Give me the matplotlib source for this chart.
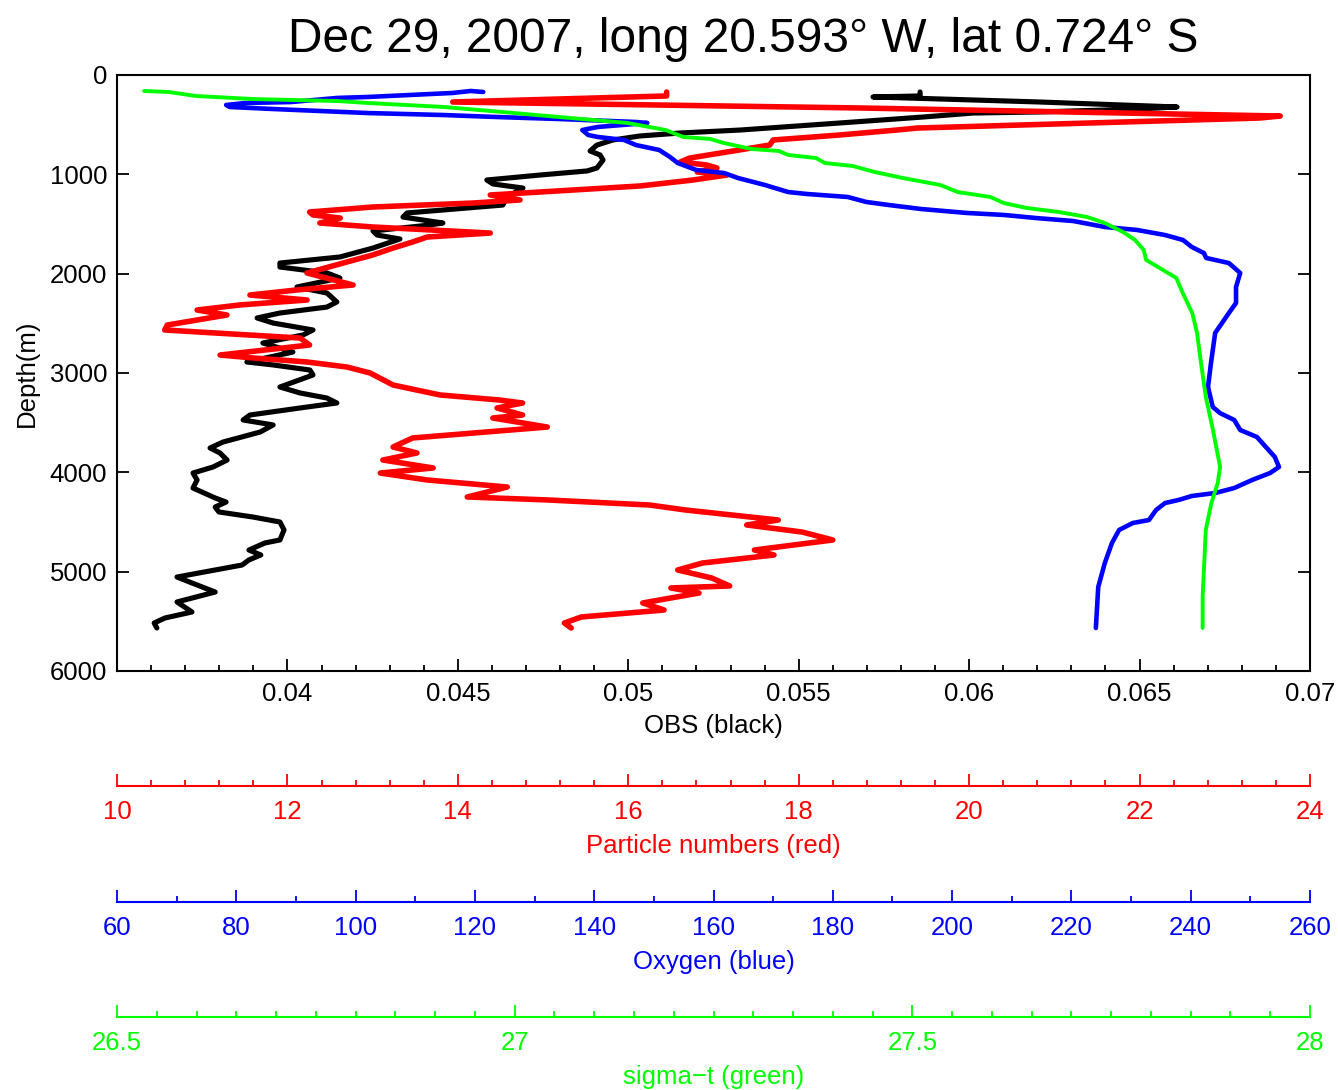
import numpy as np
import matplotlib
matplotlib.use("Agg")
from matplotlib import pyplot as plt
from matplotlib.ticker import MultipleLocator, FixedLocator

plt.rcParams['font.family'] = ['Liberation Sans', 'DejaVu Sans']

# OBS profile (black)
obs_val = [0.05856, 0.05856, 0.05718, 0.06208, 0.06610, 0.06501, 0.06208, 0.06011, 0.05865, 0.05621,
           0.05328, 0.05152, 0.05034, 0.04955, 0.04908, 0.04888, 0.04917, 0.04926, 0.04908, 0.04879,
           0.04741, 0.04585, 0.04603, 0.04691, 0.04644, 0.04632, 0.04351, 0.04339, 0.04456, 0.04418,
           0.04251, 0.04263, 0.04330, 0.04251, 0.04154, 0.03978, 0.03978, 0.04116, 0.04154, 0.04028,
           0.04116, 0.04145, 0.04116, 0.03978, 0.03911, 0.03958, 0.04075, 0.04046, 0.03928, 0.04016,
           0.03881, 0.03958, 0.04066, 0.04075, 0.03978, 0.04037, 0.04116, 0.04145, 0.04037, 0.03890,
           0.03870, 0.03958, 0.03920, 0.03811, 0.03773, 0.03802, 0.03823, 0.03782, 0.03723, 0.03735,
           0.03723, 0.03788, 0.03820, 0.03788, 0.03799, 0.03899, 0.03978, 0.03990, 0.03978, 0.03934,
           0.03887, 0.03922, 0.03887, 0.03867, 0.03788, 0.03676, 0.03720, 0.03788, 0.03732, 0.03676,
           0.03720, 0.03641, 0.03609, 0.03617]
obs_depth = [171, 211, 221, 272, 322, 342, 372, 383, 423, 483,
             554, 584, 614, 654, 705, 765, 805, 856, 936, 966,
             1007, 1057, 1097, 1138, 1228, 1309, 1389, 1430, 1490, 1510,
             1570, 1611, 1651, 1742, 1832, 1893, 1933, 1993, 2044, 2134,
             2195, 2285, 2336, 2396, 2446, 2497, 2567, 2617, 2698, 2789,
             2889, 2919, 2970, 3020, 3141, 3201, 3252, 3302, 3352, 3423,
             3473, 3523, 3594, 3695, 3755, 3805, 3876, 3946, 4007, 4077,
             4158, 4258, 4299, 4349, 4399, 4450, 4500, 4580, 4681, 4711,
             4782, 4832, 4882, 4933, 4983, 5054, 5114, 5205, 5255, 5305,
             5406, 5466, 5517, 5567]

# particle numbers (red)
part_val = [16.45, 16.45, 13.94, 18.72, 23.65, 23.41, 19.39, 19.15, 18.48, 17.70,
            17.66, 16.72, 16.61, 16.92, 17.04, 16.81, 17.16, 16.76, 16.14, 15.35,
            14.38, 14.73, 14.18, 13.00, 12.26, 12.30, 12.62, 12.38, 13.00, 14.38,
            13.64, 13.47, 13.24, 13.00, 12.70, 12.23, 12.77, 12.11, 11.56, 12.23,
            11.44, 10.94, 11.29, 10.59, 10.56, 12.15, 12.26, 11.21, 11.60, 12.23,
            12.70, 12.97, 13.24, 13.79, 14.49, 14.76, 14.46, 14.76, 14.41, 15.05,
            13.47, 13.24, 13.52, 13.12, 13.71, 13.09, 13.64, 14.58, 14.11, 15.05,
            16.25, 16.67, 17.76, 17.39, 18.04, 18.40, 17.48, 17.71, 16.87, 16.58,
            16.98, 17.19, 16.50, 16.83, 16.17, 16.42, 15.45, 15.25, 15.33]
part_depth = [171, 211, 272, 332, 413, 433, 534, 554, 604, 654,
              705, 836, 876, 906, 936, 977, 1007, 1057, 1117, 1158,
              1208, 1258, 1289, 1329, 1379, 1409, 1440, 1490, 1530, 1591,
              1631, 1681, 1742, 1812, 1882, 1993, 2114, 2164, 2215, 2265,
              2315, 2366, 2416, 2517, 2567, 2648, 2718, 2819, 2849, 2889,
              2940, 3000, 3121, 3221, 3272, 3302, 3352, 3423, 3453, 3544,
              3654, 3745, 3805, 3876, 3956, 4007, 4077, 4148, 4248, 4278,
              4329, 4379, 4480, 4530, 4601, 4681, 4782, 4832, 4913, 4983,
              5064, 5144, 5164, 5215, 5315, 5386, 5456, 5517, 5567]

# oxygen (blue)
oxy_val = [121.4, 119.3, 116.2, 102.1, 96.9, 89.2, 81.5, 78.3, 78.9, 86.0,
           102.1, 114.8, 121.4, 125.2, 134.1, 147.0, 148.9, 140.6, 138.0, 139.0,
           140.6, 145.0, 147.0, 150.9, 152.7, 154.0, 157.1, 161.8, 164.1, 168.6,
           172.5, 175.7, 182.5, 185.6, 189.4, 194.8, 202.5, 208.7, 214.1, 220.3,
           225.6, 231.0, 235.7, 238.7, 240.2, 242.2, 242.6, 244.1, 246.4, 248.3,
           247.6, 247.6, 246.4, 244.1, 243.4, 242.9, 243.7, 244.9, 247.3, 248.3,
           251.1, 252.6, 254.1, 254.8, 253.3, 250.3, 247.3, 244.1, 240.2, 238.0,
           235.7, 234.2, 233.0, 230.3, 228.0, 226.8, 225.6, 224.5, 224.1]
oxy_depth = [171, 161, 181, 221, 231, 272, 282, 302, 322, 342,
             383, 403, 418, 426, 443, 473, 483, 523, 554, 604,
             624, 654, 705, 755, 825, 886, 956, 987, 1037, 1107,
             1178, 1198, 1228, 1278, 1309, 1349, 1389, 1409, 1440, 1470,
             1530, 1560, 1611, 1661, 1732, 1792, 1842, 1862, 1893, 1993,
             2134, 2295, 2396, 2597, 2899, 3141, 3342, 3403, 3473, 3574,
             3644, 3745, 3845, 3946, 4007, 4077, 4158, 4208, 4238, 4278,
             4309, 4379, 4480, 4510, 4580, 4711, 4913, 5154, 5567]

# sigma-t (green)
sig_val = [26.534, 26.565, 26.599, 26.671, 26.777, 26.816, 26.911, 26.984, 27.056, 27.142,
           27.190, 27.212, 27.246, 27.263, 27.298, 27.332, 27.344, 27.379, 27.390, 27.425,
           27.453, 27.488, 27.535, 27.557, 27.598, 27.615, 27.644, 27.684, 27.720, 27.742,
           27.765, 27.780, 27.791, 27.794, 27.811, 27.832, 27.840, 27.852, 27.858, 27.863,
           27.869, 27.878, 27.887, 27.884, 27.876, 27.869, 27.867, 27.865, 27.865]
sig_depth = [161, 171, 211, 242, 262, 282, 322, 372, 423, 483,
             554, 624, 644, 685, 745, 765, 805, 836, 886, 916,
             977, 1037, 1107, 1178, 1228, 1289, 1339, 1379, 1430, 1490,
             1581, 1661, 1762, 1862, 1943, 2044, 2195, 2396, 2597, 2899,
             3241, 3574, 3946, 4107, 4309, 4580, 4913, 5255, 5567]

obs_ticks = [0.04, 0.045, 0.05, 0.055, 0.06, 0.065, 0.07]
obs_labels = ['0.04', '0.045', '0.05', '0.055', '0.06', '0.065', '0.07']
depth_ticks = [0, 1000, 2000, 3000, 4000, 5000, 6000]

FS = 18.5
W_PX, H_PX = 1338, 1090
L = 117 / W_PX
W = (1310 - 117) / W_PX

fig = plt.figure(figsize=(W_PX / 100, H_PX / 100), dpi=100)

ax = fig.add_axes([L, (H_PX - 671) / H_PX, W, 596 / H_PX])
ax.set_xlim(0.035, 0.07)
ax.set_ylim(6000, 0)
ax.xaxis.set_major_locator(FixedLocator(obs_ticks))
ax.set_xticklabels(obs_labels)
ax.xaxis.set_minor_locator(MultipleLocator(0.001))
ax.set_yticks(depth_ticks)
ax.set_yticklabels([str(d) for d in depth_ticks])
ax.tick_params(which='both', direction='in', top=True, right=True, width=1.3, labelsize=FS)
ax.tick_params(which='major', length=8.5)
ax.tick_params(which='minor', length=4.5)
ax.tick_params(axis='x', pad=8)
ax.tick_params(axis='y', pad=7)
for s in ax.spines.values():
    s.set_linewidth(1.5)
ax.set_xlabel('OBS (black)', fontsize=FS, labelpad=6)
ax.set_ylabel('Depth(m)', fontsize=FS, labelpad=8)

ax.plot(obs_val, obs_depth, color='black', lw=3.7, solid_capstyle='round', solid_joinstyle='round')

# extra x scales that share the depth axis
for vals, dep, lim, col, lw in [(part_val, part_depth, (10, 24), '#ff0000', 4.0),
                                (oxy_val, oxy_depth, (60, 260), '#0000ff', 3.3),
                                (sig_val, sig_depth, (26.5, 28), '#00ff00', 2.8)]:
    tw = ax.twiny()
    tw.set_xlim(*lim)
    tw.axis('off')
    tw.plot(vals, dep, color=col, lw=lw, solid_capstyle='round', solid_joinstyle='round')

fig.text(743 / W_PX, 1 - 52 / H_PX, 'Dec 29, 2007, long 20.593\u00b0 W, lat 0.724\u00b0 S',
         fontsize=34.5, ha='center', va='baseline')


def add_scale(y_px, lo, hi, major, minor, col, label):
    sa = fig.add_axes([L, (H_PX - y_px) / H_PX, W, 0.001])
    sa.set_xlim(lo, hi)
    sa.set_yticks([])
    for side in ['top', 'left', 'right']:
        sa.spines[side].set_visible(False)
    sa.spines['bottom'].set_color(col)
    sa.spines['bottom'].set_linewidth(1.5)
    sa.patch.set_alpha(0)
    sa.xaxis.set_major_locator(MultipleLocator(major))
    sa.xaxis.set_minor_locator(MultipleLocator(minor))
    sa.tick_params(axis='x', which='both', direction='in', colors=col, width=1.3,
                   labelsize=FS, pad=10)
    sa.tick_params(axis='x', which='major', length=8.5)
    sa.tick_params(axis='x', which='minor', length=4)
    sa.set_xlabel(label, color=col, fontsize=FS, labelpad=7)
    return sa


add_scale(786, 10, 24, 2, 0.4, '#ff0000', 'Particle numbers (red)')
oxa = add_scale(902, 60, 260, 20, 10, '#0000ff', 'Oxygen (blue)')
sga = add_scale(1017, 26.5, 28, 0.5, 0.05, '#00ff00', 'sigma\u2212t (green)')
sga.set_xticks([26.5, 27, 27.5, 28])
sga.set_xticklabels(['26.5', '27', '27.5', '28'])

fig.savefig('out.png', dpi=100)
